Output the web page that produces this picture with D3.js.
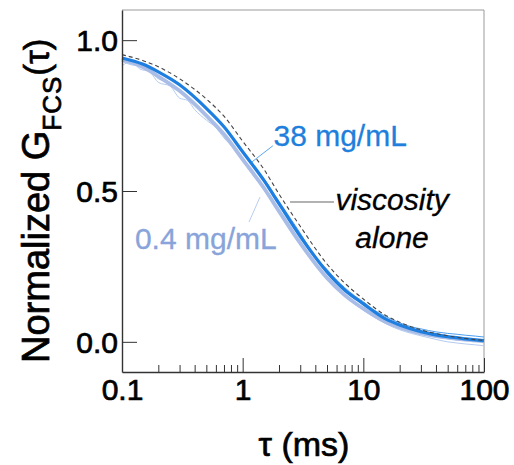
<!DOCTYPE html>
<html>
<head>
<meta charset="utf-8">
<script src="https://cdn.jsdelivr.net/npm/d3@7"></script>
<style>
  html, body { margin: 0; padding: 0; background: #fff; }
  svg { display: block; font-family: "Liberation Sans", Arial, sans-serif; }
</style>
</head>
<body>
<svg id="chart" width="514" height="465"></svg>
<script>
// Lag times (ms) for the smoothed fit curves
const tauFit = [0.1, 0.15, 0.2, 0.3, 0.5, 0.7, 1, 1.5, 2, 3, 5, 7, 10, 15, 20, 30, 50, 70, 100];
// Normalized autocorrelation fits
const fit38 = [0.941, 0.920, 0.895, 0.852, 0.774, 0.713, 0.630, 0.535, 0.458, 0.350, 0.232, 0.172, 0.126, 0.078, 0.056, 0.034, 0.017, 0.010, 0.004];
const fit04 = [0.935, 0.910, 0.880, 0.832, 0.750, 0.688, 0.605, 0.510, 0.433, 0.327, 0.212, 0.155, 0.110, 0.068, 0.048, 0.028, 0.014, 0.007, 0.002];
const fitViscosity = [0.952, 0.932, 0.912, 0.872, 0.805, 0.748, 0.665, 0.572, 0.490, 0.383, 0.258, 0.195, 0.142, 0.090, 0.065, 0.040, 0.020, 0.011, 0.005];

// Lag times (ms) for the raw correlation traces
const tauRaw = [0.1, 0.12, 0.14, 0.17, 0.2, 0.25, 0.3, 0.35, 0.4, 0.5, 0.6, 0.7, 0.85, 1, 1.2, 1.5, 2, 2.5, 3, 4, 5, 6, 7, 8.5, 10, 12, 15, 20, 25, 30, 40, 50, 60, 70, 85, 100];
const raw38 = [0.945, 0.930, 0.926, 0.910, 0.893, 0.876, 0.855, 0.830, 0.812, 0.776, 0.742, 0.716, 0.672, 0.634, 0.590, 0.541, 0.466, 0.408, 0.360, 0.282, 0.240, 0.205, 0.180, 0.152, 0.133, 0.108, 0.086, 0.063, 0.050, 0.043, 0.033, 0.028, 0.025, 0.022, 0.019, 0.016];
const raw04a = [0.915, 0.930, 0.905, 0.895, 0.860, 0.848, 0.808, 0.800, 0.770, 0.735, 0.710, 0.676, 0.640, 0.600, 0.556, 0.505, 0.430, 0.372, 0.322, 0.255, 0.210, 0.178, 0.152, 0.125, 0.105, 0.085, 0.062, 0.040, 0.028, 0.020, 0.008, 0.000, -0.004, -0.007, -0.010, -0.013];
const raw04b = [0.930, 0.918, 0.915, 0.900, 0.872, 0.860, 0.830, 0.810, 0.790, 0.748, 0.720, 0.690, 0.650, 0.612, 0.566, 0.515, 0.440, 0.382, 0.330, 0.262, 0.216, 0.184, 0.158, 0.130, 0.110, 0.090, 0.068, 0.046, 0.034, 0.026, 0.016, 0.010, 0.006, 0.004, 0.001, -0.002];

// Axis ticks
const xMajorTicks = [0.1, 1, 10, 100];
const xMinorTicks = [0.2, 0.3, 0.4, 0.5, 0.6, 0.7, 0.8, 0.9, 2, 3, 4, 5, 6, 7, 8, 9, 20, 30, 40, 50, 60, 70, 80, 90];
const yTicks = [0, 0.5, 1.0];

const svg = d3.select("#chart");
const plotLeft = 122, plotRight = 484, plotTop = 10, plotBottom = 372;

const x = d3.scaleLog().domain([0.1, 100]).range([plotLeft, plotRight]);
const y = d3.scaleLinear().domain([-0.1, 1.1]).range([plotBottom, plotTop]);

// Plot frame: light top/right edges
svg.append("line").attr("x1", plotLeft).attr("x2", plotRight).attr("y1", plotTop).attr("y2", plotTop)
  .attr("stroke", "#9a9a9a").attr("stroke-width", 1);
svg.append("line").attr("x1", plotRight).attr("x2", plotRight).attr("y1", plotTop).attr("y2", plotBottom)
  .attr("stroke", "#9a9a9a").attr("stroke-width", 1);

const zip = (xs, ys) => xs.map((t, i) => [t, ys[i]]);
const line = d3.line().x(d => x(d[0])).y(d => y(d[1])).curve(d3.curveMonotoneX);

const plot = svg.append("g");

// Raw traces, 0.4 mg/mL
[raw04a, raw04b].forEach(s => {
  plot.append("path").datum(zip(tauRaw, s)).attr("d", line)
    .attr("fill", "none").attr("stroke", "#b4cbef").attr("stroke-width", 1);
});
// Fit, 0.4 mg/mL
plot.append("path").datum(zip(tauFit, fit04)).attr("d", line)
  .attr("fill", "none").attr("stroke", "#a9bde6").attr("stroke-width", 3.8);
// Raw trace, 38 mg/mL
plot.append("path").datum(zip(tauRaw, raw38)).attr("d", line)
  .attr("fill", "none").attr("stroke", "#4d9ef0").attr("stroke-width", 1);
// Fit, 38 mg/mL
plot.append("path").datum(zip(tauFit, fit38)).attr("d", line)
  .attr("fill", "none").attr("stroke", "#1f7fe0").attr("stroke-width", 3.2);
// Viscosity-only prediction
plot.append("path").datum(zip(tauFit, fitViscosity)).attr("d", line)
  .attr("fill", "none").attr("stroke", "#444").attr("stroke-width", 1.1)
  .attr("stroke-dasharray", "4 3");

// Axes
const tickFont = 30;
const xAxisMajor = d3.axisBottom(x).tickValues(xMajorTicks).tickSizeInner(-14).tickSizeOuter(0)
  .tickPadding(7).tickFormat(d => d >= 1 ? d3.format("d")(d) : d3.format(".1f")(d));
const gx = svg.append("g").attr("transform", `translate(0,${plotBottom})`).call(xAxisMajor);
const xAxisMinor = d3.axisBottom(x).tickValues(xMinorTicks).tickSizeInner(-7).tickSizeOuter(0).tickFormat("");
const gxm = svg.append("g").attr("transform", `translate(0,${plotBottom})`).call(xAxisMinor);
gxm.select(".domain").remove();

const yAxis = d3.axisLeft(y).tickValues(yTicks).tickSizeInner(-15).tickSizeOuter(0)
  .tickPadding(4).tickFormat(d3.format(".1f"));
const gy = svg.append("g").attr("transform", `translate(${plotLeft},0)`).call(yAxis);

[gx, gxm, gy].forEach(g => {
  g.select(".domain").attr("stroke", "#333").attr("stroke-width", 1.4);
  g.selectAll(".tick line").attr("stroke", "#333").attr("stroke-width", 1);
  g.selectAll(".tick text").attr("font-size", tickFont).attr("fill", "#000")
    .attr("stroke", "#000").attr("stroke-width", 0.7)
    .attr("font-family", "Liberation Sans, Arial, sans-serif");
});
gy.selectAll(".tick text").attr("dy", "0.36em");

// Axis titles
svg.append("text").attr("x", (plotLeft + plotRight) / 2 + 1).attr("y", 456).attr("text-anchor", "middle")
  .attr("font-size", 34).attr("fill", "#000").attr("stroke", "#000").attr("stroke-width", 0.7)
  .text("τ (ms)");

const yTitle = svg.append("text").attr("transform", "translate(49,363) rotate(-90)")
  .attr("font-size", 38).attr("fill", "#000").attr("stroke", "#000").attr("stroke-width", 0.7);
yTitle.append("tspan").text("Normalized G");
yTitle.append("tspan").attr("font-size", 26).attr("dy", 12).attr("letter-spacing", 1).text("FCS");
yTitle.append("tspan").attr("font-size", 35).attr("dy", -12).text("(τ)");

// Annotations with leader lines
const ann = svg.append("g");
ann.append("line").attr("x1", x(1.19)).attr("y1", y(0.596)).attr("x2", x(1.78)).attr("y2", y(0.65))
  .attr("stroke", "#5aa8f2").attr("stroke-width", 1);
ann.append("text").attr("x", x(1.8)).attr("y", y(0.649)).attr("font-size", 30)
  .attr("fill", "#1f7fdc").attr("stroke", "#1f7fdc").attr("stroke-width", 0.3).text("38 mg/mL");

ann.append("line").attr("x1", x(1.128)).attr("y1", y(0.397)).attr("x2", x(1.392)).attr("y2", y(0.48))
  .attr("stroke", "#b8cdf2").attr("stroke-width", 1);
ann.append("text").attr("x", x(0.128)).attr("y", y(0.308)).attr("font-size", 30)
  .attr("fill", "#88a4da").attr("stroke", "#88a4da").attr("stroke-width", 0.3).text("0.4 mg/mL");

ann.append("line").attr("x1", x(2.47)).attr("y1", y(0.4636)).attr("x2", x(5.71)).attr("y2", y(0.4636))
  .attr("stroke", "#999").attr("stroke-width", 1.5);
ann.append("text").attr("x", x(17.3)).attr("y", y(0.437)).attr("font-size", 30).attr("font-style", "italic")
  .attr("text-anchor", "middle").attr("fill", "#000").attr("stroke", "#000").attr("stroke-width", 0.3)
  .text("viscosity");
ann.append("text").attr("x", x(17.3)).attr("y", y(0.311)).attr("font-size", 30).attr("font-style", "italic")
  .attr("text-anchor", "middle").attr("fill", "#000").attr("stroke", "#000").attr("stroke-width", 0.3)
  .text("alone");
</script>
</body>
</html>
